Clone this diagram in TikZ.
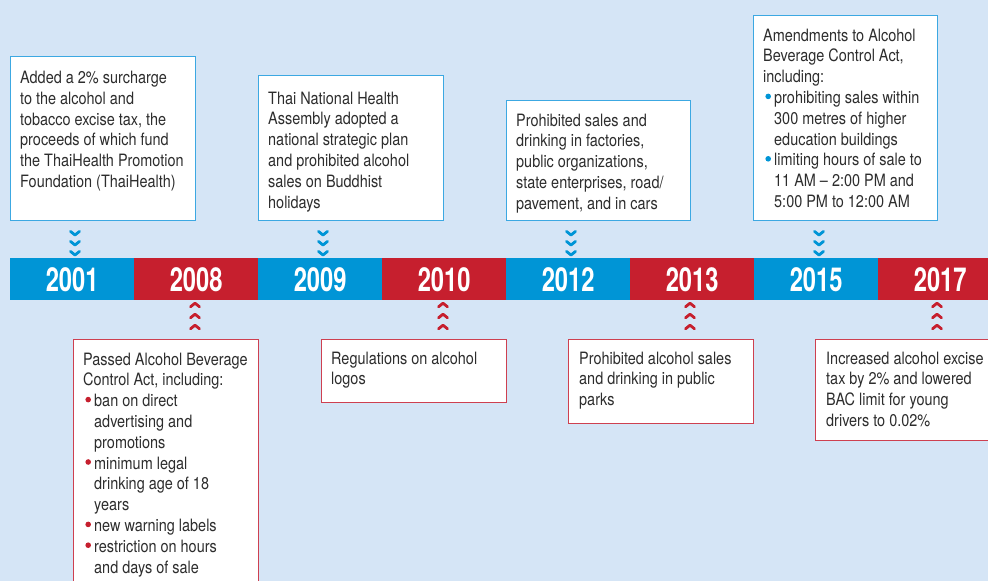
\documentclass[tikz,border=0pt]{standalone}
\usepackage{fontspec}
\setmainfont[FakeStretch=0.85]{TeX Gyre Heros}
\newfontfamily\yearfont[FakeStretch=0.72]{TeX Gyre Heros}
\definecolor{bgblue}{RGB}{213,229,246}
\definecolor{segblue}{RGB}{0,149,214}
\definecolor{segred}{RGB}{198,31,46}
\definecolor{lineblue}{RGB}{60,168,226}
\definecolor{linered}{RGB}{206,64,80}
\definecolor{txtgray}{RGB}{45,45,45}
\newcommand{\bpt}[1]{\tikz[x=1pt,y=1pt,baseline=0pt]{\useasboundingbox (0,0) rectangle (11,1); \fill[#1] (5,7) circle (2.8);}}
\newcommand{\bind}{\hspace*{11pt}}
\tikzset{
  seg/.style={anchor=north west, minimum width=124pt, minimum height=42pt, inner sep=0pt,
    text=white, font=\yearfont\bfseries\fontsize{33}{33}\selectfont},
  topbox/.style={draw=lineblue, line width=1.2pt, fill=white, anchor=north west, inner sep=0pt},
  botbox/.style={draw=linered, line width=1.2pt, fill=white, anchor=north west, inner sep=0pt},
  txt/.style={anchor=base west, inner sep=0pt, align=left, text=txtgray,
    font=\fontsize{17}{20.8}\selectfont},
  chevline/.style={line width=2.8pt, line cap=round, line join=round},
  chevdown/.pic={\foreach \dy in {-10,0,10} \draw[chevline, segblue] (-4.5,\dy-1.8) -- (0,\dy+1.8) -- (4.5,\dy-1.8);},
  chevup/.pic={\foreach \dy in {-11,0,11} \draw[chevline, segred] (-4.5,\dy+1.8) -- (0,\dy-1.8) -- (4.5,\dy+1.8);}
}
\begin{document}
\begin{tikzpicture}[x=1pt,y=-1pt]
\useasboundingbox (0,0) rectangle (988,581);
\clip (0,0) rectangle (988,581);
\fill[bgblue] (0,0) rectangle (988,581);

% timeline bar
\node[seg, fill=segblue] (s2001) at (10,258) {2001};
\node[seg, fill=segred]  (s2008) at (134,258) {2008};
\node[seg, fill=segblue] (s2009) at (258,258) {2009};
\node[seg, fill=segred]  (s2010) at (382,258) {2010};
\node[seg, fill=segblue] (s2012) at (506,258) {2012};
\node[seg, fill=segred]  (s2013) at (630,258) {2013};
\node[seg, fill=segblue] (s2015) at (754,258) {2015};
\node[seg, fill=segred]  (s2017) at (878,258) {2017};

% top boxes
\node[topbox, minimum width=185pt, minimum height=164pt] (b1) at (10,56) {};
\node[topbox, minimum width=185pt, minimum height=145pt] (b2) at (258,75) {};
\node[topbox, minimum width=184pt, minimum height=120pt] (b3) at (506,100) {};
\node[topbox, minimum width=184pt, minimum height=205pt] (b4) at (753,15) {};

% bottom boxes
\node[botbox, minimum width=185pt, minimum height=260pt] (b5) at (73,339) {};
\node[botbox, minimum width=185pt, minimum height=63pt] (b6) at (321,339) {};
\node[botbox, minimum width=185pt, minimum height=84pt] (b7) at (568,339) {};
\node[botbox, minimum width=185pt, minimum height=101pt] (b8) at (815,339) {};

% texts (anchored at the baseline of their last line)
\node[txt] (t1) at (20,187.5) {Added a 2\% surcharge\\to the alcohol and\\tobacco excise tax, the\\proceeds of which fund\\the ThaiHealth Promotion\\Foundation (ThaiHealth)};
\node[txt] (t2) at (268,208) {Thai National Health\\Assembly adopted a\\national strategic plan\\and prohibited alcohol\\sales on Buddhist\\holidays};
\node[txt] (t3) at (516,209.2) {Prohibited sales and\\drinking in factories,\\public organizations,\\state enterprises, road/\\pavement, and in cars};
\node[txt] (t4) at (763,207.4) {Amendments to Alcohol\\Beverage Control Act,\\including:\\\bpt{segblue}prohibiting sales within\\\bind 300 metres of higher\\\bind education buildings\\\bpt{segblue}limiting hours of sale to\\\bind 11 AM -- 2:00 PM and\\\bind 5:00 PM to 12:00 AM};
\node[txt] (t5) at (83,573) {Passed Alcohol Beverage\\Control Act, including:\\\bpt{segred}ban on direct\\\bind advertising and\\\bind promotions\\\bpt{segred}minimum legal\\\bind drinking age of 18\\\bind years\\\bpt{segred}new warning labels\\\bpt{segred}restriction on hours\\\bind and days of sale};
\node[txt] (t6) at (331,384.8) {Regulations on alcohol\\logos};
\node[txt] (t7) at (579,405.6) {Prohibited alcohol sales\\and drinking in public\\parks};
\node[txt] (t8) at (826,426.4) {Increased alcohol excise\\tax by 2\% and lowered\\BAC limit for young\\drivers to 0.02\%};

% chevrons
\path (b1.south west) ++(65,22) pic {chevdown};
\path (b2.south west) ++(65,22) pic {chevdown};
\path (b3.south west) ++(65,22) pic {chevdown};
\path (b4.south west) ++(66,22) pic {chevdown};
\path (b5.north west) ++(122,-23) pic {chevup};
\path (b6.north west) ++(122,-23) pic {chevup};
\path (b7.north west) ++(122,-23) pic {chevup};
\path (b8.north west) ++(122,-23) pic {chevup};
\end{tikzpicture}
\end{document}
